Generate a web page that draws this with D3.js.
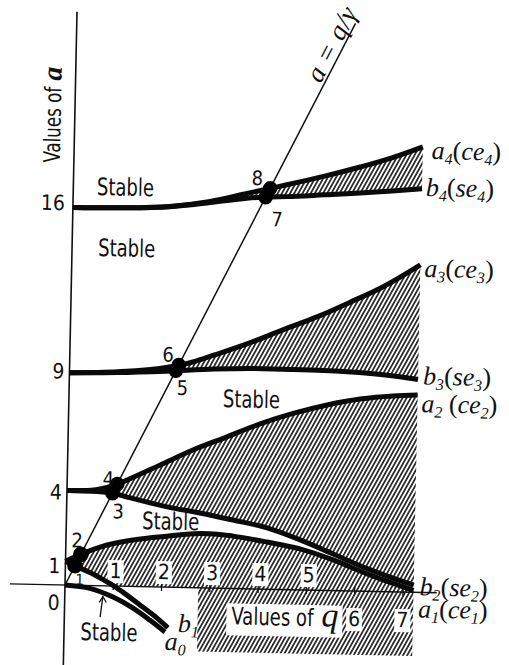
<!DOCTYPE html>
<html>
<head>
<meta charset="utf-8">
<script src="https://cdnjs.cloudflare.com/ajax/libs/d3/7.8.5/d3.min.js"></script>
<style>
  html, body { margin: 0; padding: 0; background: #fff; }
  svg { display: block; }
  .sans { font-family: "Liberation Sans Narrow", "DejaVu Sans Condensed", "Arial Narrow", sans-serif; fill: #111; }
  .serif { font-family: "Liberation Serif", "DejaVu Serif", serif; font-style: italic; fill: #111; }
</style>
</head>
<body>
<svg id="chart" width="509" height="665"></svg>
<script>
// Mathieu characteristic numbers, each curve as [q, a] pairs
const a0 = [[0, 0], [0.52, -0.12], [1.0, -0.47], [1.42, -0.92], [1.77, -1.41], [2.09, -1.9]];
const b1 = [[0, 1], [0.25, 0.78], [0.5, 0.56], [0.75, 0.3], [1.0, 0.02], [1.2, -0.25], [1.56, -0.78], [1.92, -1.32], [2.15, -1.72]];
const a1 = [[0, 1], [0.3, 1.3], [0.71, 1.64], [1.39, 1.97], [2.09, 2.16], [2.8, 2.3], [3.13, 2.29], [3.46, 2.22], [4.16, 2.0], [4.85, 1.74], [5.54, 1.3], [6.25, 0.74], [7.22, 0.08]];
const b2 = [[0, 4], [0.5, 3.99], [0.95, 3.93], [1.25, 3.78], [2.08, 3.4], [2.76, 3.17], [3.45, 2.9], [4.16, 2.6], [4.85, 2.12], [5.54, 1.55], [6.25, 0.96], [7.22, 0.3]];
const a2 = [[0, 4], [0.5, 4.04], [0.95, 4.25], [1.24, 4.5], [1.92, 5.17], [2.59, 5.83], [3.29, 6.42], [3.97, 7.0], [4.65, 7.47], [5.35, 7.86], [6.03, 8.14], [6.71, 8.3], [7.22, 8.36]];
const b3 = [[0, 9], [1, 9.05], [2, 9.15], [3, 9.28], [4, 9.34], [5, 9.33], [6, 9.26], [6.8, 9.13], [7.22, 9.02]];
const a3 = [[0, 9], [1, 9.08], [2, 9.3], [2.55, 9.56], [3, 9.88], [3.72, 10.42], [4.4, 11.0], [5.1, 11.58], [5.8, 12.25], [6.45, 12.91], [7.22, 13.88]];
const b4 = [[0, 16], [1, 16.03], [2, 16.12], [2.84, 16.33], [3.6, 16.55], [4.07, 16.62], [4.43, 16.65], [5.2, 16.76], [5.94, 16.87], [6.6, 16.98], [7.22, 17.1]];
const a4 = [[0, 16], [1, 16.03], [2, 16.13], [2.84, 16.38], [3.6, 16.75], [4.07, 16.98], [4.42, 17.15], [5.2, 17.55], [5.93, 17.97], [6.6, 18.4], [7.22, 18.88]];

// Straight line a = q/γ
const gamma = 0.24;
const lineTopA = 24.05;

// Tick labels
const qTicks = [1, 2, 3, 4, 5, 6, 7];
const aTicks = [0, 1, 4, 9, 16];

// Extent of the shaded unstable region under the q axis
const qMax = 7.22;
const qCut = 2.76;
const aBottom = -2.7;

// Curve labels: [curve, text parts [text, subscript?, upright?], dx, dy]
const curveLabels = [
  [a4, [["a"], ["4", 1], ["(", 0, 1], ["ce"], ["4", 1], [")", 0, 1]], 9, 12],
  [b4, [["b"], ["4", 1], ["(", 0, 1], ["se"], ["4", 1], [")", 0, 1]], 4, 7],
  [a3, [["a"], ["3", 1], ["(", 0, 1], ["ce"], ["3", 1], [")", 0, 1]], 4, 12],
  [b3, [["b"], ["3", 1], ["(", 0, 1], ["se"], ["3", 1], [")", 0, 1]], 5, 5],
  [a2, [["a"], ["2", 1], [" (", 0, 1], ["ce"], ["2", 1], [")", 0, 1]], 4, 17],
  [b2, [["b"], ["2", 1], ["(", 0, 1], ["se"], ["2", 1], [")", 0, 1]], 6, 10],
  [a1, [["a"], ["1", 1], ["(", 0, 1], ["ce"], ["1", 1], [")", 0, 1]], 5, 27],
  [b1, [["b"], ["1", 1]], 10, 4],
  [a0, [["a"], ["0", 1]], 0, 18]
];

// "Stable" label anchors in (q, a)
const stableSpots = [[0.49, 16.55], [0.54, 13.97], [3.19, 7.68], [1.57, 2.44], [0.34, -2.32]];

// ---------------------------------------------------------------
const svg = d3.select("#chart");
const x = d3.scaleLinear().domain([0, 7]).range([0, 338]);
const y = d3.scaleLinear().domain([0, 16]).range([0, -377.6]);

const defs = svg.append("defs");
const pat = defs.append("pattern")
  .attr("id", "hatch")
  .attr("patternUnits", "userSpaceOnUse")
  .attr("width", 3.6).attr("height", 12)
  .attr("patternTransform", "rotate(28)");
pat.append("line")
  .attr("x1", 1.8).attr("x2", 1.8).attr("y1", -1).attr("y2", 13)
  .attr("stroke", "#111").attr("stroke-width", 1.6);

// whole drawing sits on a slightly tilted sheet
const g = svg.append("g").attr("transform", "translate(65,585) rotate(1.2)");

const lin = (pts, q) => {
  for (let i = 1; i < pts.length; i++) {
    if (q <= pts[i][0]) {
      const [q0, v0] = pts[i - 1], [q1, v1] = pts[i];
      return v0 + (v1 - v0) * (q - q0) / (q1 - q0);
    }
  }
  return pts[pts.length - 1][1];
};

// where a curve meets the line a = q/γ
const meetLine = pts => {
  const f = q => lin(pts, q) - q / gamma;
  let lo = 0, hi = 7;
  for (let q = 0.005; q <= 7; q += 0.005) { if (f(q) < 0) { hi = q; lo = q - 0.005; break; } }
  for (let k = 0; k < 40; k++) { const m = (lo + hi) / 2; if (f(m) > 0) lo = m; else hi = m; }
  const q = (lo + hi) / 2;
  return [q, q / gamma];
};

const polyLine = d3.line().x(d => x(d[0])).y(d => y(d[1]));
const smooth = d3.line().x(d => x(d[0])).y(d => y(d[1])).curve(d3.curveMonotoneX);

// ---- shaded unstable regions
const hatchG = g.append("g").attr("fill", "url(#hatch)").attr("stroke", "none");
[[b2, a2], [b3, a3], [b4, a4]].forEach(([lo, hi]) => {
  hatchG.append("path").attr("d", polyLine(hi.concat(lo.slice().reverse())) + "Z");
});
// region between b1 and a1, continuing below the q axis
let qZero = 0;
for (let i = 1; i < b1.length; i++) {
  if (b1[i][1] <= 0) {
    const [q0, v0] = b1[i - 1], [q1, v1] = b1[i];
    qZero = q0 + (q1 - q0) * v0 / (v0 - v1);
    break;
  }
}
const lowerEdge = [[qMax, aBottom], [qCut, aBottom], [qCut, 0], [qZero, 0]]
  .concat(b1.filter(d => d[1] > 0).reverse());
hatchG.append("path").attr("d", polyLine(a1.concat(lowerEdge)) + "Z");

// ---- axes
g.append("line")
  .attr("x1", x(-1.14)).attr("x2", x(7.7)).attr("y1", y(0)).attr("y2", y(0))
  .attr("stroke", "#111").attr("stroke-width", 1.4);
g.append("line")
  .attr("x1", x(0)).attr("x2", x(0)).attr("y1", y(-3.4)).attr("y2", y(24.3))
  .attr("stroke", "#111").attr("stroke-width", 1.6);

g.selectAll(".qtick").data(qTicks).join("line")
  .attr("x1", d => x(d)).attr("x2", d => x(d))
  .attr("y1", y(0) - 4).attr("y2", y(0) + 4)
  .attr("stroke", "#111").attr("stroke-width", 1.3);

// tick labels with a clear patch behind them
const boxG = g.append("g");
const tickText = g.append("g").attr("class", "sans").attr("font-size", 21)
  .attr("text-anchor", "middle");
tickText.selectAll("text").data(qTicks).join("text")
  .attr("x", d => x(d) + (d < 6 ? 2 : 0))
  .attr("y", d => d < 6 ? y(0) - 8 : y(0) + 35)
  .text(d => d);
tickText.selectAll("text").each(function () {
  const b = this.getBBox();
  boxG.append("rect").attr("x", b.x - 2).attr("y", b.y + 1)
    .attr("width", b.width + 4).attr("height", b.height - 1).attr("fill", "#fff");
});

const aTickShift = { 0: 25, 1: 12, 4: 9, 9: 6, 16: 3 };
g.append("g").attr("class", "sans").attr("font-size", 21).attr("text-anchor", "end")
  .selectAll("text").data(aTicks).join("text")
  .attr("x", d => x(0) - (d === 16 ? 8 : 5))
  .attr("y", d => y(d) + aTickShift[d])
  .text(d => d);

// axis titles
const qWords = g.append("text").attr("class", "sans").attr("font-size", 24)
  .attr("x", x(3.46)).attr("y", y(-1.52))
  .attr("textLength", 82).attr("lengthAdjust", "spacingAndGlyphs")
  .text("Values of");
const qLetter = g.append("text").attr("class", "serif").attr("font-size", 34)
  .attr("x", x(3.46) + 90).attr("y", y(-1.52))
  .text("q");
{
  const b1b = qWords.node().getBBox(), b2b = qLetter.node().getBBox();
  const x0 = b1b.x - 5, x1 = b2b.x + b2b.width + 4;
  boxG.append("rect").attr("x", x0).attr("y", b1b.y + 1)
    .attr("width", x1 - x0).attr("height", b1b.height + 4).attr("fill", "#fff");
}

const aTitle = g.append("g")
  .attr("transform", `translate(${x(0) - 14},${y(17.88)}) rotate(-90)`);
aTitle.append("text").attr("class", "sans").attr("font-size", 23)
  .attr("x", 0).attr("y", 0)
  .attr("textLength", 76).attr("lengthAdjust", "spacingAndGlyphs")
  .text("Values of");
aTitle.append("text").attr("class", "serif").attr("font-weight", "bold")
  .attr("font-size", 28).attr("x", 82).attr("y", 0).text("a");

// ---- line a = q/γ
const qTop = lineTopA * gamma;
g.append("line")
  .attr("x1", x(0)).attr("y1", y(0)).attr("x2", x(qTop)).attr("y2", y(lineTopA))
  .attr("stroke", "#111").attr("stroke-width", 1.5);
const lineAngle = Math.atan2(y(0) - y(1 / gamma), x(1) - x(0)) * 180 / Math.PI;
const qLab = 5.5;
g.append("text").attr("class", "serif").attr("font-size", 27)
  .attr("text-anchor", "middle")
  .attr("transform", `translate(${x(qLab)},${y(qLab / gamma)}) rotate(${-lineAngle})`)
  .attr("y", -3)
  .attr("textLength", 80).attr("lengthAdjust", "spacing")
  .text("a = q/γ");

// ---- characteristic curves
const curveG = g.append("g").attr("fill", "none").attr("stroke", "#0a0a0a")
  .attr("stroke-width", 5).attr("stroke-linejoin", "round");
[a0, b1, a1, b2, a2, b3, a3, b4, a4].forEach(c => {
  curveG.append("path").attr("d", smooth(c));
});

// ---- transition points 1..8 where the curves meet a = q/γ
const pairs = [[b1, a1], [b2, a2], [b3, a3], [b4, a4]];
const labelOffsets = [[[5, 14], [-4, -14]], [[6, 18], [-9, -5]], [[7, 17], [-11, -10]], [[12, 22], [-13, -10]]];
const dotG = g.append("g").attr("fill", "#000");
const numG = g.append("g").attr("class", "sans").attr("font-size", 19)
  .attr("text-anchor", "middle").attr("dominant-baseline", "central");
pairs.forEach((pair, i) => {
  pair.forEach((c, j) => {
    const p = meetLine(c);
    dotG.append("circle").attr("cx", x(p[0])).attr("cy", y(p[1])).attr("r", i === 0 ? 7.8 : 7.3);
    const off = labelOffsets[i][j];
    numG.append("text")
      .attr("x", x(p[0]) + off[0]).attr("y", y(p[1]) + off[1])
      .attr("font-size", i === 0 && j === 0 ? 15 : 20)
      .text(2 * i + j + 1);
  });
});

// ---- region labels
g.append("g").attr("class", "sans").attr("font-size", 24)
  .selectAll("text").data(stableSpots).join("text")
  .attr("x", d => x(d[0])).attr("y", d => y(d[1]))
  .attr("textLength", 57).attr("lengthAdjust", "spacingAndGlyphs")
  .text("Stable");

// arrow from the lower "Stable" to the narrow strip between a0 and b1
const tail = [0.74, -1.33], tip = [0.79, -0.45];
g.append("line")
  .attr("x1", x(tail[0])).attr("y1", y(tail[1])).attr("x2", x(tip[0])).attr("y2", y(tip[1]))
  .attr("stroke", "#111").attr("stroke-width", 1.3);
g.append("path")
  .attr("d", `M${x(tip[0]) - 3.5},${y(tip[1]) + 6}L${x(tip[0])},${y(tip[1])}L${x(tip[0]) + 3.5},${y(tip[1]) + 6}`)
  .attr("fill", "none").attr("stroke", "#111").attr("stroke-width", 1.3);

// ---- curve names at the right-hand ends
const labG = g.append("g").attr("class", "serif").attr("font-size", 26);
curveLabels.forEach(([c, parts, dx, dy]) => {
  const end = c[c.length - 1];
  const t = labG.append("text").attr("x", x(end[0]) + dx).attr("y", y(end[1]) + dy);
  let shifted = false;
  parts.forEach(([s, sub, upright]) => {
    const sp = t.append("tspan").text(s);
    if (upright) sp.attr("font-style", "normal");
    if (sub) {
      sp.attr("font-size", 16);
      if (!shifted) { sp.attr("dy", 5); shifted = true; }
    } else if (shifted) { sp.attr("dy", -5); shifted = false; }
  });
});
</script>
</body>
</html>
